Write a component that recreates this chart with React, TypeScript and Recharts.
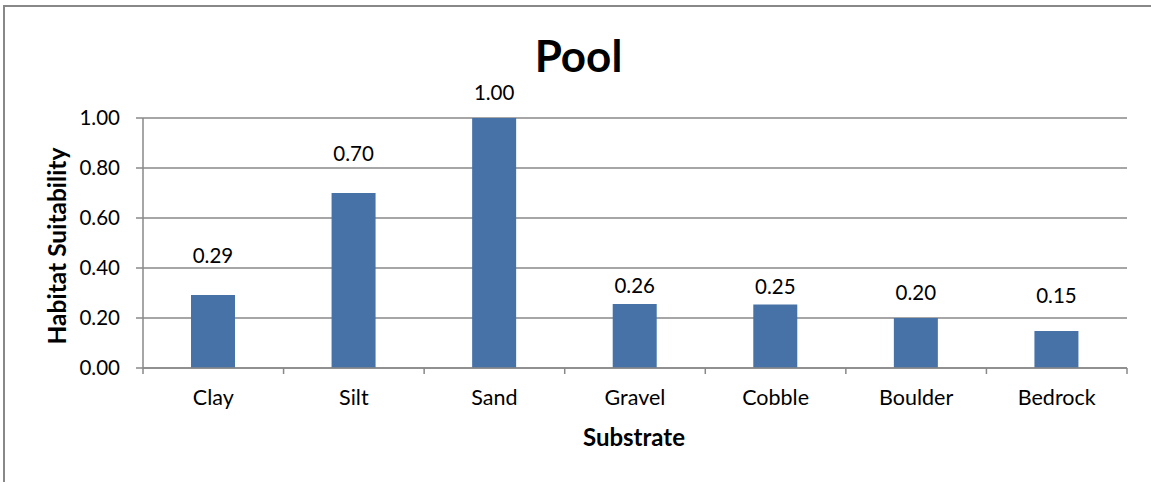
import { Bar, BarChart, CartesianGrid, LabelList, XAxis, YAxis } from 'recharts'

const substrates = ['Clay', 'Silt', 'Sand', 'Gravel', 'Cobble', 'Boulder', 'Bedrock']
const suitability = [0.292, 0.7, 1.0, 0.256, 0.254, 0.2, 0.148]
const yTicks = [0, 0.2, 0.4, 0.6, 0.8, 1.0]

// hand-placed label gaps above each bar (like the original sheet)
const labelGaps = [32, 32, 18, 11, 11, 18, 28]

const data = substrates.map((name, i) => ({ name, value: suitability[i] }))

const FONT = 'Lato, "Open Sans", sans-serif'
const GRID = '#888888'
const BAR = '#4672A8'
const AXIS_Y = 368

function SubstrateTick(props: any) {
  const { x, y, payload, index } = props
  const half = payload?.offset || 70.29
  const isLast = index === substrates.length - 1
  return (
    <g>
      <line x1={x - half} x2={x - half} y1={AXIS_Y} y2={AXIS_Y + 6} stroke={GRID} strokeWidth={1.5} />
      {isLast && (
        <line x1={x + half} x2={x + half} y1={AXIS_Y} y2={AXIS_Y + 6} stroke={GRID} strokeWidth={1.5} />
      )}
      <text x={x} y={y + 29} textAnchor="middle" fill="#000" fontSize={21.5} fontFamily={FONT}>
        {payload.value}
      </text>
    </g>
  )
}

function ValueLabel(props: any) {
  const { x, y, width, value, index } = props
  return (
    <text
      x={x + width / 2}
      y={y - labelGaps[index]}
      textAnchor="middle"
      fill="#000"
      fontSize={20.5}
      fontFamily={FONT}
    >
      {Number(value).toFixed(2)}
    </text>
  )
}

export default function App() {
  return (
    <div
      style={{
        position: 'absolute',
        left: 0,
        top: 0,
        width: 1151,
        height: 482,
        overflow: 'hidden',
        background: '#fff',
        fontFamily: FONT,
      }}
    >
      <div
        style={{
          position: 'absolute',
          left: 3,
          top: 5,
          width: 1300,
          height: 700,
          border: `2px solid ${GRID}`,
        }}
      />
      <div
        style={{
          position: 'absolute',
          left: 0,
          width: 1157,
          top: 30,
          textAlign: 'center',
          fontSize: 44,
          fontWeight: 700,
          lineHeight: '50px',
          color: '#000',
        }}
      >
        Pool
      </div>
      <div
        style={{
          position: 'absolute',
          left: 57 - 150,
          top: 246 - 15,
          width: 300,
          height: 30,
          lineHeight: '30px',
          textAlign: 'center',
          fontSize: 24.5,
          fontWeight: 700,
          color: '#000',
          transform: 'rotate(-90deg)',
        }}
      >
        Habitat Suitability
      </div>
      <div
        style={{
          position: 'absolute',
          left: 634 - 150,
          width: 300,
          top: 422,
          lineHeight: '30px',
          textAlign: 'center',
          fontSize: 24,
          fontWeight: 700,
          color: '#000',
        }}
      >
        Substrate
      </div>
      <div style={{ position: 'absolute', left: 0, top: 0 }}>
        <BarChart width={1151} height={482} data={data} margin={{ top: 118, right: 24, bottom: 0, left: 0 }}>
          <CartesianGrid vertical={false} stroke={GRID} strokeWidth={1.5} />
          <XAxis
            dataKey="name"
            height={114}
            tickSize={6}
            tickMargin={2}
            tickLine={false}
            axisLine={{ stroke: GRID, strokeWidth: 1.5 }}
            tick={<SubstrateTick />}
            interval={0}
          />
          <YAxis
            width={143}
            domain={[0, 1]}
            ticks={yTicks}
            interval={0}
            tickFormatter={(v: number) => v.toFixed(2)}
            tickSize={7}
            tickMargin={16}
            tickLine={{ stroke: GRID, strokeWidth: 1.5 }}
            axisLine={{ stroke: GRID, strokeWidth: 1.5 }}
            tick={{ fill: '#000', fontSize: 20.5, fontFamily: FONT }}
          />
          <Bar dataKey="value" fill={BAR} barSize={44} isAnimationActive={false}>
            <LabelList dataKey="value" content={<ValueLabel />} />
          </Bar>
        </BarChart>
      </div>
    </div>
  )
}
